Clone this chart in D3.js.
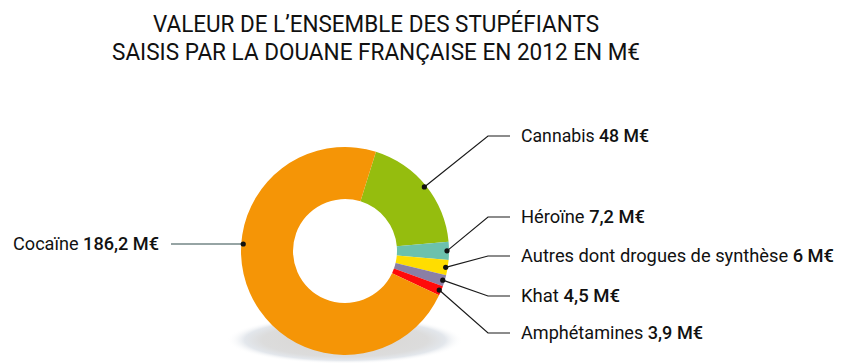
<!DOCTYPE html>
<html>
<head>
<meta charset="utf-8">
<script src="https://cdn.jsdelivr.net/npm/d3@7"></script>
<style>
  body { margin: 0; background: #fff; }
  text { font-family: Roboto, "Noto Sans", sans-serif; fill: #111; }
</style>
</head>
<body>
<div id="container"></div>
<script>
const width = 851;
const height = 363;

// data
const drugs = ["Cannabis", "Héroïne", "Autres dont drogues de synthèse", "Khat", "Amphétamines", "Cocaïne"];
const values = [48, 7.2, 6, 4.5, 3.9, 186.2];
const valueLabels = ["48 M€", "7,2 M€", "6 M€", "4,5 M€", "3,9 M€", "186,2 M€"];
const colors = ["#95bd0e", "#6cc1ad", "#ffdd00", "#8a7fa5", "#ff0a0a", "#f59506"];
const titleLines = ["VALEUR DE L\u2019ENSEMBLE DES STUPÉFIANTS", "SAISIS PAR LA DOUANE FRANÇAISE EN 2012 EN M€"];

// layout
const cx = 345, cy = 251;
const outerR = 104, innerR = 52, dotR = 102;
const startOffset = 17.3 * Math.PI / 180;
const labelY = [136, 217, 256, 296, 333, 244];
const labelWidths = [128, 124, 313, 99, 182, 146];

const svg = d3.select("#container").append("svg")
    .attr("width", width)
    .attr("height", height);

// title
svg.selectAll("text.title")
    .data(titleLines)
    .enter()
    .append("text")
    .attr("class", "title")
    .attr("x", 376)
    .attr("y", (d, i) => 32 + i * 28)
    .attr("text-anchor", "middle")
    .attr("font-size", 24)
    .attr("textLength", (d, i) => i === 0 ? 446 : 528)
    .attr("lengthAdjust", "spacingAndGlyphs")
    .text(d => d);

// shadow under the donut
const grad = svg.append("defs").append("radialGradient")
    .attr("id", "shadow");
grad.append("stop").attr("offset", "0%").attr("stop-color", "#d8d5d2");
grad.append("stop").attr("offset", "70%").attr("stop-color", "#dcdcdc");
grad.append("stop").attr("offset", "85%").attr("stop-color", "#e3e7ec");
grad.append("stop").attr("offset", "100%").attr("stop-color", "#ffffff").attr("stop-opacity", 0);

svg.append("ellipse")
    .attr("cx", cx)
    .attr("cy", 340)
    .attr("rx", 118)
    .attr("ry", 24)
    .attr("fill", "url(#shadow)");

const pie = d3.pie()
    .sort(null)
    .startAngle(startOffset)
    .endAngle(startOffset + 2 * Math.PI);

const arcs = pie(values);

const arc = d3.arc()
    .innerRadius(innerR)
    .outerRadius(outerR);

const g = svg.append("g").attr("transform", `translate(${cx},${cy})`);

g.selectAll("path")
    .data(arcs)
    .enter()
    .append("path")
    .attr("d", arc)
    .attr("fill", (d, i) => colors[i]);

// leader lines and labels
arcs.forEach((d, i) => {
    const left = i === drugs.length - 1;
    let dx, dy;
    if (left) {
        dy = labelY[i] - cy;
        dx = -Math.sqrt(dotR * dotR - dy * dy);
    } else {
        const a = (d.startAngle + d.endAngle) / 2;
        dx = Math.sin(a) * dotR;
        dy = -Math.cos(a) * dotR;
    }
    const px = cx + dx, py = cy + dy;

    const pts = left
        ? [[px, py], [171, labelY[i]]]
        : [[px, py], [488, labelY[i]], [510, labelY[i]]];

    svg.append("path")
        .attr("d", d3.line()(pts))
        .attr("fill", "none")
        .attr("stroke", left ? "#2f4a4a" : "#1a1a1a")
        .attr("stroke-width", 1.2);

    svg.append("circle")
        .attr("cx", px)
        .attr("cy", py)
        .attr("r", 2.6)
        .attr("fill", "#111");

    const t = svg.append("text")
        .attr("x", left ? 159 : 521)
        .attr("y", labelY[i])
        .attr("dy", "0.35em")
        .attr("text-anchor", left ? "end" : "start")
        .attr("font-size", 18)
        .attr("textLength", labelWidths[i])
        .attr("lengthAdjust", "spacingAndGlyphs");
    t.append("tspan").text(drugs[i] + " ");
    t.append("tspan").attr("font-weight", 500).text(valueLabels[i]);
});
</script>
</body>
</html>
